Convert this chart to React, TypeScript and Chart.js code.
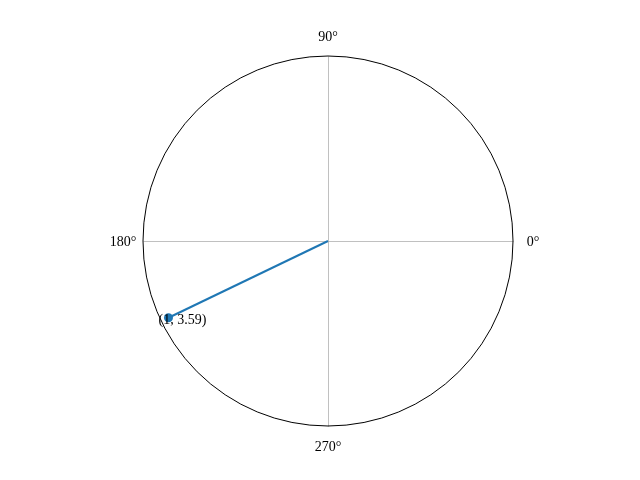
import React, { useEffect, useRef } from "react";
import { Chart, registerables } from "chart.js";

Chart.register(...registerables);

const thetas = [0, 3.59];
const radii = [0, 1];
const pointSizes = [0, 4.5];
const annotationText = "(1, 3.59)";
const angleTicks = [0, 90, 180, 270];
const angleTickLabels = ["0°", "90°", "180°", "270°"];
const rMax = 1.045;

const FONT = "14px 'Liberation Serif', 'Times New Roman', serif";

const polarPlugin = {
  id: "polarFrame",
  beforeDatasetsDraw(chart: any) {
    const { ctx, scales } = chart;
    const xs = scales.x;
    const ys = scales.y;
    const cx = xs.getPixelForValue(0);
    const cy = ys.getPixelForValue(0);
    const R = xs.getPixelForValue(rMax) - cx;
    ctx.save();
    ctx.strokeStyle = "#b0b0b0";
    ctx.lineWidth = 0.8;
    angleTicks.forEach((deg) => {
      const a = (deg * Math.PI) / 180;
      ctx.beginPath();
      ctx.moveTo(cx + 0.5, cy + 0.5);
      ctx.lineTo(cx + 0.5 + R * Math.cos(a), cy + 0.5 - R * Math.sin(a));
      ctx.stroke();
    });
    ctx.strokeStyle = "#000000";
    ctx.lineWidth = 1;
    ctx.beginPath();
    ctx.arc(cx, cy, R, 0, Math.PI * 2);
    ctx.stroke();
    ctx.fillStyle = "#000000";
    ctx.font = FONT;
    angleTicks.forEach((deg, i) => {
      const a = (deg * Math.PI) / 180;
      const pad = 20;
      const x = cx + (R + pad) * Math.cos(a);
      const y = cy - (R + pad) * Math.sin(a);
      ctx.textAlign = "center";
      ctx.textBaseline = "middle";
      ctx.fillText(angleTickLabels[i], x, y + 1);
    });
    ctx.restore();
  },
  afterDatasetsDraw(chart: any) {
    const { ctx, scales } = chart;
    const last = radii.length - 1;
    const x = scales.x.getPixelForValue(radii[last] * Math.cos(thetas[last]));
    const y = scales.y.getPixelForValue(radii[last] * Math.sin(thetas[last]));
    ctx.save();
    ctx.fillStyle = "#000000";
    ctx.font = FONT;
    ctx.textAlign = "left";
    ctx.textBaseline = "middle";
    ctx.fillText(annotationText, x - 10, y + 3);
    ctx.restore();
  },
};

export default function App() {
  const ref = useRef<HTMLCanvasElement | null>(null);
  useEffect(() => {
    if (!ref.current) return;
    const data = thetas.map((t, i) => ({
      x: radii[i] * Math.cos(t),
      y: radii[i] * Math.sin(t),
    }));
    const chart = new Chart(ref.current, {
      type: "scatter",
      data: {
        datasets: [
          {
            data,
            showLine: true,
            borderColor: "#1f77b4",
            backgroundColor: "#1f77b4",
            borderWidth: 2,
            pointRadius: pointSizes,
            pointHoverRadius: pointSizes,
            pointBorderWidth: 0,
          },
        ],
      },
      options: {
        animation: false,
        responsive: false,
        maintainAspectRatio: false,
        layout: { padding: { left: 143, right: 127, top: 56, bottom: 54 } },
        plugins: { legend: { display: false }, tooltip: { enabled: false } },
        scales: {
          x: { type: "linear", min: -rMax, max: rMax, display: false },
          y: { type: "linear", min: -rMax, max: rMax, display: false },
        },
      },
      plugins: [polarPlugin],
    });
    return () => chart.destroy();
  }, []);
  return (
    <div style={{ position: "fixed", left: 0, top: 0, width: 640, height: 480, background: "#fff" }}>
      <canvas ref={ref} width={640} height={480} style={{ width: 640, height: 480 }} />
    </div>
  );
}
